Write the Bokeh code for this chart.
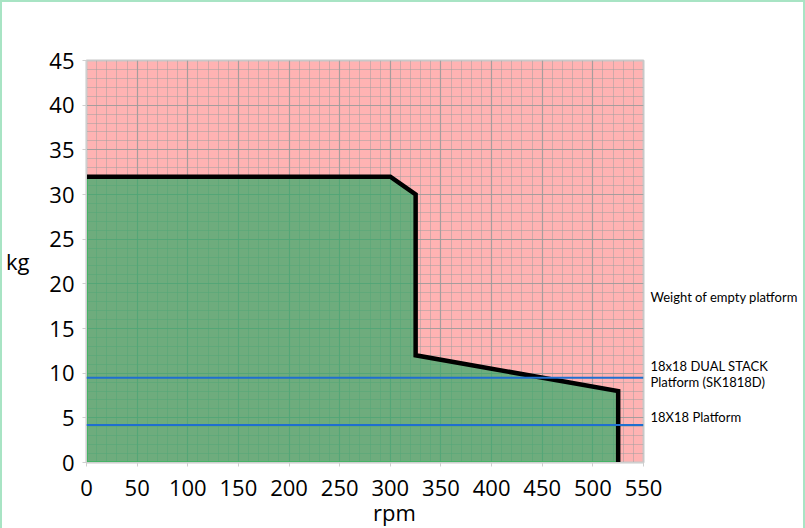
from bokeh.plotting import figure
from bokeh.models import Span, FixedTicker, Range1d, LinearAxis
from bokeh.embed import file_html
from bokeh.resources import INLINE

# ---- data ----
rpm = [0, 300, 325, 325, 525, 525]
kg = [32, 32, 30, 12, 8, 0]
platform_weights = [9.5, 4.2]
x_ticks = list(range(0, 551, 50))
y_ticks = list(range(0, 46, 5))
side_texts = ["Weight of empty platform", "18x18 DUAL STACK", "Platform (SK1818D)", "18X18 Platform"]
side_pos = [18.5, 10.8, 9.0, 5.1]

p = figure(frame_width=557, frame_height=402, output_backend="svg", toolbar_location=None,
           x_range=Range1d(0, 550), y_range=Range1d(0, 45),
           min_border_left=84, min_border_top=58, min_border_right=160, min_border_bottom=20,
           background_fill_color="#FFB3B3", border_fill_color="white",
           outline_line_color="#c8c8c8", outline_line_width=2)
p.styles = {"border": "2px solid #a8e4c4"}

p.xaxis.ticker = FixedTicker(ticks=x_ticks, minor_ticks=list(range(0, 551, 10)))
p.yaxis.ticker = FixedTicker(ticks=y_ticks, minor_ticks=list(range(0, 46, 1)))
for g in (p.xgrid, p.ygrid):
    g.grid_line_color = "#9a9a9a"
    g.grid_line_alpha = 0.75
    g.grid_line_width = 1.2
    g.minor_grid_line_color = "#a0a0a0"
    g.minor_grid_line_alpha = 0.5
    g.minor_grid_line_width = 1

p.patch([0] + rpm, [0] + kg, fill_color="#30A966", fill_alpha=0.7,
        line_color="#3cb55e", line_width=2.5)
p.line(rpm, kg, line_color="black", line_width=4.5, line_join="miter")

for w in platform_weights:
    p.add_layout(Span(location=w, dimension="width", line_color="#1f6fd0", line_width=2))

for ax in (p.xaxis, p.yaxis):
    ax.axis_line_color = "#cfcfcf"
    ax.major_tick_line_color = "#cfcfcf"
    ax.major_tick_out = 4
    ax.major_tick_in = 0
    ax.minor_tick_line_color = None
    ax.major_label_text_font = "Open Sans"
    ax.major_label_text_font_size = "22px"
    ax.major_label_text_color = "black"
p.xaxis.major_label_standoff = 13
p.yaxis.major_label_standoff = 8


def text_axis(ticks, texts, font, size, standoff):
    ax = LinearAxis(ticker=FixedTicker(ticks=ticks),
                    major_label_overrides={t: s for t, s in zip(ticks, texts)},
                    axis_line_color=None, major_tick_line_color=None, minor_tick_line_color=None,
                    major_tick_out=0, major_tick_in=0, major_label_standoff=standoff,
                    major_label_text_font=font, major_label_text_font_size=size,
                    major_label_text_color="black")
    return ax


# "kg" (horizontal, left of the y tick labels)
p.add_layout(text_axis([22.6], ["kg"], "Open Sans", "22px", 17), "left")
# "rpm" below the x tick labels
rpm_axis = text_axis([304], ["rpm"], "Open Sans", "22px", -2)
rpm_axis.major_label_text_line_height = 0.7
p.add_layout(rpm_axis, "below")
# right-hand annotations
p.add_layout(text_axis(side_pos, side_texts, "Lato", "13px", 7), "right")

open("out.html", "w").write(file_html(p, INLINE))
